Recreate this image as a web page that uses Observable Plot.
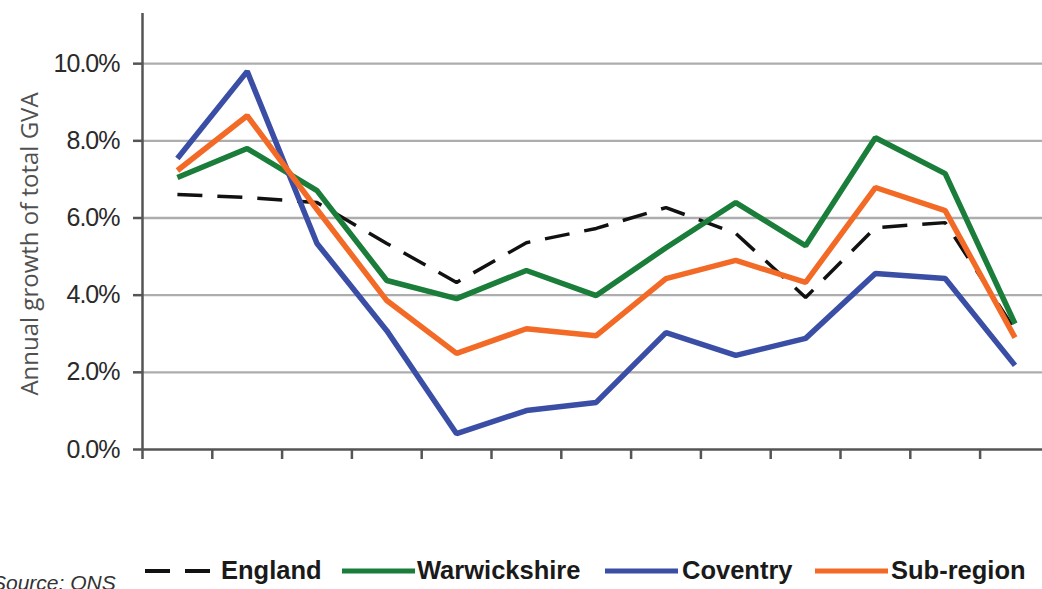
<!DOCTYPE html>
<html>
<head>
<meta charset="utf-8">
<script src="https://cdn.jsdelivr.net/npm/d3@7"></script>
<script src="https://cdn.jsdelivr.net/npm/@observablehq/plot@0.6"></script>
<style>
  html, body { margin: 0; padding: 0; background: #fff; overflow: hidden; }
  #wrap { position: relative; width: 1042px; height: 589px; overflow: hidden; }
  #chart { position: absolute; left: 0; top: 0; }
  .ytitle { position: absolute; left: 28px; top: 244px; transform: translate(-50%, -50%) rotate(-90deg);
    white-space: nowrap; font-family: "Open Sans", sans-serif; font-size: 24px; color: #505050; }
  .leg { position: absolute; top: 554px; font-family: "Liberation Sans", Arial, sans-serif; font-weight: bold;
    font-size: 25.5px; color: #1a1a1a; white-space: nowrap; line-height: 32px; }
  .sw { position: absolute; top: 554px; }
  .src { position: absolute; left: -8px; top: 571px; font-family: "Liberation Sans", Arial, sans-serif;
    font-style: italic; font-size: 21px; color: #333; white-space: nowrap; }
</style>
</head>
<body>
<div id="wrap">
  <div id="chart"></div>
  <div class="ytitle">Annual growth of total GVA</div>
  <div class="src">Source: ONS</div>
  <div id="legend"></div>
</div>
<script>
// Categories (periods; not labelled on the original chart)
const periods = ["1996","1997","1998","1999","2000","2001","2002","2003","2004","2005","2006","2007","2008"];
const seriesNames = ["England", "Warwickshire", "Coventry", "Sub-region"];
const england     = [6.61, 6.53, 6.40, 5.34, 4.33, 5.36, 5.73, 6.27, 5.60, 3.94, 5.75, 5.88, 3.10];
const warwickshire= [7.05, 7.80, 6.71, 4.38, 3.91, 4.64, 3.99, 5.23, 6.40, 5.28, 8.08, 7.15, 3.26];
const coventry    = [7.54, 9.80, 5.34, 3.08, 0.41, 1.01, 1.22, 3.03, 2.44, 2.88, 4.56, 4.43, 2.18];
const subregion   = [7.23, 8.65, 6.22, 3.86, 2.49, 3.13, 2.95, 4.43, 4.90, 4.33, 6.79, 6.19, 2.90];
const yTicks = [0, 2, 4, 6, 8, 10];

const colors = { "England": "#111", "Warwickshire": "#1a7d3a", "Coventry": "#3a4ea6", "Sub-region": "#f26a26" };
const values = { "England": england, "Warwickshire": warwickshire, "Coventry": coventry, "Sub-region": subregion };

const rows = [];
for (const s of seriesNames) {
  values[s].forEach((v, i) => rows.push({ series: s, period: periods[i], idx: i + 0.5, value: v }));
}
const bandEdges = d3.range(0, periods.length + 1);

const lineOf = (s, extra) => Plot.line(rows.filter(r => r.series === s), {
  x: "idx", y: "value", stroke: colors[s], strokeWidth: 5.5, strokeLinejoin: "miter", strokeLinecap: "butt", ...extra
});

const chart = Plot.plot({
  width: 1042,
  height: 470,
  marginLeft: 142,
  marginRight: 0,
  marginTop: 13,
  marginBottom: 21,
  x: { domain: [0, periods.length], range: [142, 142 + 69.8 * periods.length] },
  y: { domain: [0, 11.3] },
  style: { fontFamily: "'Liberation Sans', Arial, sans-serif", background: "white", overflow: "visible" },
  marks: [
    Plot.gridY([2, 4, 6, 8, 10], { stroke: "#adadad", strokeOpacity: 1, strokeWidth: 2.4 }),
    Plot.ruleY([0], { stroke: "#555", strokeWidth: 2.5 }),
    Plot.ruleX([0], { stroke: "#555", strokeWidth: 2.5 }),
    Plot.axisX(bandEdges, { tickSize: 10, tickFormat: () => "", stroke: "#555", strokeWidth: 2.5, label: null }),
    Plot.axisY(yTicks, { tickSize: 9, tickPadding: 14, tickFormat: d => d.toFixed(1) + "%", fontSize: 25,
      fill: "#2a2a2a", stroke: "#555", strokeWidth: 2.5, label: null }),
    lineOf("England", { strokeWidth: 3.5, strokeDasharray: "25,15" }),
    lineOf("Warwickshire"),
    lineOf("Coventry"),
    lineOf("Sub-region")
  ]
});
chart.querySelectorAll("g[aria-label='y-axis tick label'] text").forEach(t => t.setAttribute("letter-spacing", "-1"));
document.getElementById("chart").appendChild(chart);

// Legend
const legendLayout = [
  { name: "England", sx: 145, sw: 65, tx: 221 },
  { name: "Warwickshire", sx: 342, sw: 73, tx: 417 },
  { name: "Coventry", sx: 605, sw: 73, tx: 682 },
  { name: "Sub-region", sx: 815, sw: 73, tx: 891 }
];
const leg = document.getElementById("legend");
legendLayout.forEach(l => {
  const svg = d3.create("svg").attr("class", "sw").attr("width", l.sw).attr("height", 32)
    .style("left", l.sx + "px");
  svg.append("line").attr("x1", 0).attr("x2", l.sw).attr("y1", 17).attr("y2", 17)
    .attr("stroke", colors[l.name])
    .attr("stroke-width", l.name === "England" ? 4 : 5)
    .attr("stroke-dasharray", l.name === "England" ? "25,15" : null);
  leg.appendChild(svg.node());
  const t = document.createElement("div");
  t.className = "leg";
  t.style.left = l.tx + "px";
  t.textContent = l.name;
  leg.appendChild(t);
});
</script>
</body>
</html>
